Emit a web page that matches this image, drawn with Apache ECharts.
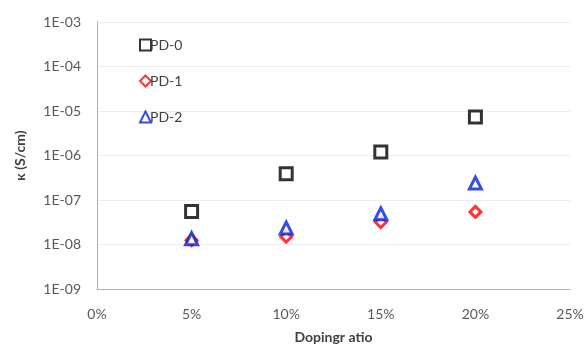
<!DOCTYPE html>
<html><head><meta charset="utf-8">
<script src="https://cdn.jsdelivr.net/npm/echarts@6/dist/echarts.min.js"></script>
<style>html,body{margin:0;padding:0;background:#fff}#c{width:586px;height:346px}</style>
</head><body><div id="c"></div>
<script>
const dopingRatio = [5, 10, 15, 20];
const pd0 = [5.5e-8, 3.9e-7, 1.2e-6, 7.3e-6];
const pd1 = [1.25e-8, 1.5e-8, 3.2e-8, 5.4e-8];
const pd2 = [1.35e-8, 2.35e-8, 4.9e-8, 2.4e-7];
const seriesNames = ['PD-0', 'PD-1', 'PD-2'];
const xName = 'Dopingr atio';
const yName = 'κ (S/cm)';

const font = 'Lato, "Liberation Sans", sans-serif';
function pairs(ys){ return dopingRatio.map((x,i)=>[x, ys[i]]); }
const chart = echarts.init(document.getElementById('c'), null, {renderer:'canvas'});
chart.setOption({
  animation:false,
  backgroundColor:'#fff',
  grid:{left:97, right:16, top:22, bottom:57, containLabel:false, outerBoundsMode:'none'},
  legend:{
    orient:'vertical', left:134, top:33, itemGap:22, itemWidth:11, itemHeight:11,
    textStyle:{fontFamily:font, fontSize:14, color:'#404040', padding:[0,0,0,-6]},
    data:seriesNames
  },
  xAxis:{
    type:'value', min:0, max:25, interval:5,
    name:xName, nameLocation:'middle', nameGap:41,
    nameTextStyle:{fontFamily:font, fontSize:14, fontWeight:'bold', color:'#404040'},
    axisLine:{show:true, lineStyle:{color:'#b0b0b0', width:1}},
    axisTick:{show:false},
    splitLine:{show:false},
    axisLabel:{formatter:v=>v+'%', fontFamily:font, fontSize:14, color:'#595959', margin:18}
  },
  yAxis:{
    type:'log', logBase:10, min:1e-9, max:1e-3,
    name:yName, nameLocation:'middle', nameGap:70,
    nameTextStyle:{fontFamily:font, fontSize:14, fontWeight:'bold', color:'#404040'},
    axisLine:{show:true, lineStyle:{color:'#b0b0b0', width:1}},
    axisTick:{show:false},
    splitLine:{show:true, lineStyle:{color:'#ececec', width:1}},
    axisLabel:{
      fontFamily:font, fontSize:14, color:'#595959', margin:16,
      formatter:v=>{const e=Math.round(Math.log10(v)); const a=Math.abs(e); return '1E'+(e<0?'-':'+')+(a<10?'0':'')+a;}
    }
  },
  series:[
    {name:seriesNames[0], type:'scatter', data:pairs(pd0), symbol:'rect', symbolSize:12,
     itemStyle:{color:'#fff', borderColor:'#000', borderWidth:3}},
    {name:seriesNames[1], type:'scatter', data:pairs(pd1), symbol:'diamond', symbolSize:11,
     itemStyle:{color:'#fff', borderColor:'#ff0000', borderWidth:3}},
    {name:seriesNames[2], type:'scatter', data:pairs(pd2), symbol:'triangle', symbolSize:12,
     itemStyle:{color:'#fff', borderColor:'#0022dd', borderWidth:3}}
  ]
});
</script></body></html>
